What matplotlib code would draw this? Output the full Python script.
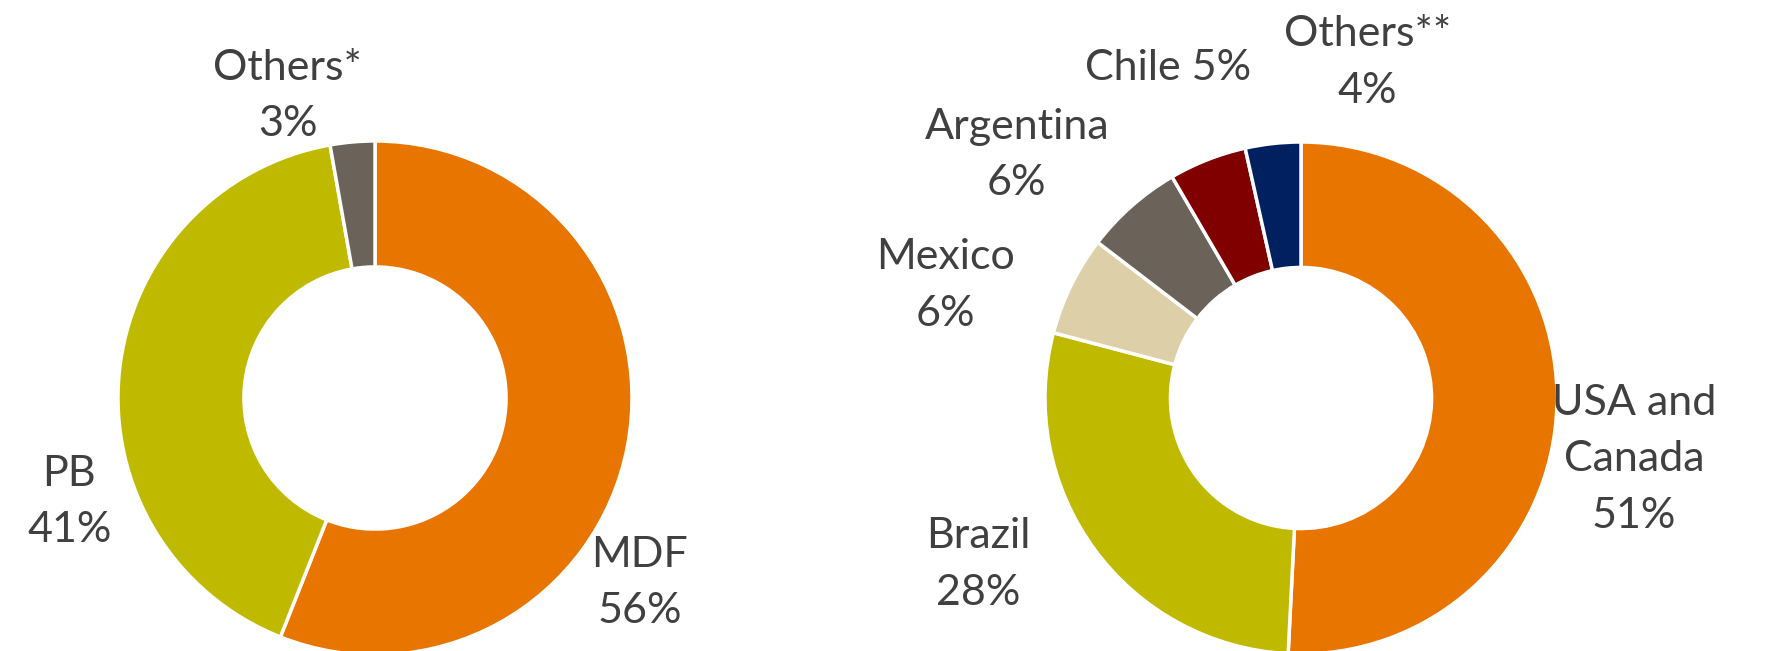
import matplotlib
matplotlib.use("Agg")
import matplotlib.pyplot as plt

# left donut: product mix
prod_labels = ["MDF", "PB", "Others*"]
prod_shares = [56.0, 41.2, 2.8]
prod_text = ["MDF\n56%", "PB\n41%", "Others*\n3%"]
prod_colors = ["#E87500", "#BFBA00", "#6B6259"]

# right donut: regional mix
region_labels = ["USA and Canada", "Brazil", "Mexico", "Argentina", "Chile", "Others**"]
region_shares = [50.8, 28.3, 6.3, 6.2, 4.9, 3.5]
region_text = ["USA and\nCanada\n51%", "Brazil\n28%", "Mexico\n6%", "Argentina\n6%", "Chile 5%", "Others**\n4%"]
region_colors = ["#E87500", "#BFBA00", "#DDD0A8", "#6B6259", "#800000", "#002060"]

W, H = 1766, 651
fig = plt.figure(figsize=(W / 100, H / 100), dpi=100)
plt.rcParams["font.family"] = ["Lato", "DejaVu Sans"]
txt_color = "#404040"


def donut(cx, cy, r, shares, colors, texts, label_pos):
    ax = fig.add_axes([(cx - r) / W, (H - cy - r) / H, 2 * r / W, 2 * r / H])
    ax.pie(shares, colors=colors, startangle=90, counterclock=False, radius=1,
           wedgeprops=dict(width=0.49, edgecolor="white", linewidth=2.5))
    ax.set_xlim(-1, 1)
    ax.set_ylim(-1, 1)
    ax.set_aspect("auto")
    ax.axis("off")
    for t, (x, y) in zip(texts, label_pos):
        ax.text(x, y, t, ha="center", va="center", fontsize=31, color=txt_color,
                linespacing=1.6, clip_on=False)


donut(375, 398, 257, prod_shares, prod_colors, prod_text,
      [(1.03, -0.72), (-1.19, -0.405), (-0.34, 1.175)])
donut(1301, 398, 256, region_shares, region_colors, region_text,
      [(1.30, -0.24), (-1.26, -0.65), (-1.39, 0.44), (-1.11, 0.95), (-0.52, 1.29), (0.26, 1.31)])

fig.savefig("out.png", dpi=100)
